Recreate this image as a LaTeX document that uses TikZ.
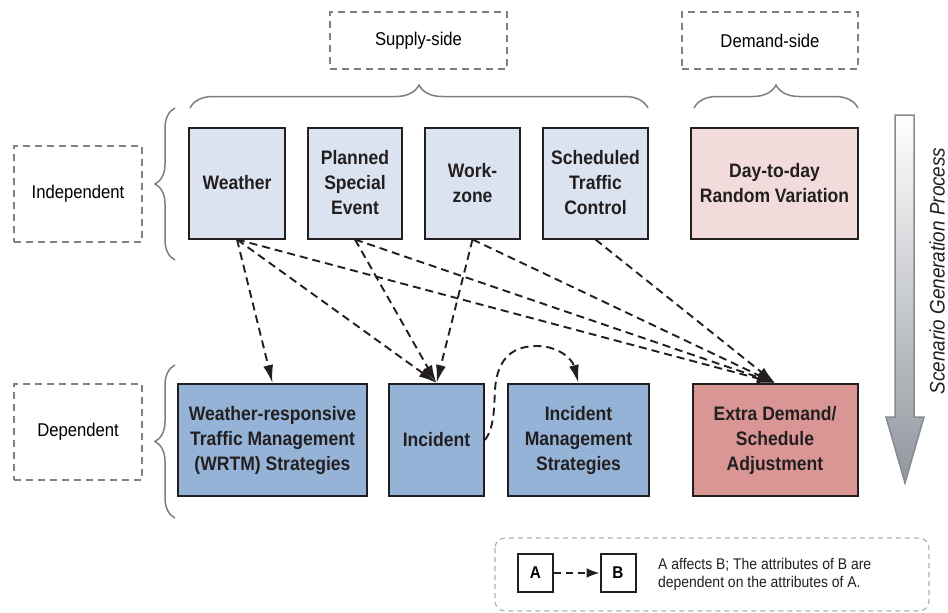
\documentclass[tikz,border=0pt]{standalone}
\usepackage{fontspec}
\setmainfont[FakeStretch=0.9]{Liberation Sans}
\usetikzlibrary{arrows.meta,decorations.pathreplacing,shapes.geometric}
\definecolor{lblgray}{HTML}{808080}
\definecolor{bracegray}{HTML}{7F7F7F}
\definecolor{boxline}{HTML}{231F20}
\definecolor{lblue}{HTML}{DCE3F0}
\definecolor{lpink}{HTML}{F2DCDB}
\definecolor{dblue}{HTML}{95B3D7}
\definecolor{dred}{HTML}{D99694}
\definecolor{arrowgray}{HTML}{858B93}
\definecolor{legendgray}{HTML}{B0B0B0}
\tikzset{
  lbl/.style={draw=lblgray, dash pattern=on 7pt off 5pt, line width=1.5pt,
    font=\fontsize{18.5}{22}\selectfont, align=center, inner sep=0pt},
  bx/.style={draw=boxline, line width=2pt, align=center, inner sep=0pt,
    font=\bfseries\fontsize{19.5}{25}\selectfont, text=boxline},
  ibox/.style={bx, fill=lblue},
  pbox/.style={bx, fill=lpink},
  dbox/.style={bx, fill=dblue},
  rbox/.style={bx, fill=dred},
  dep/.style={-{Latex[length=18pt,width=10pt]}, dash pattern=on 8pt off 5pt,
    line width=1.9pt, draw=boxline},
  brc/.style={draw=bracegray, line width=1.5pt, decorate},
  lgbox/.style={draw=boxline, line width=2pt, minimum width=35pt, minimum height=38pt,
    inner sep=0pt, font=\bfseries\fontsize{17}{20}\selectfont}
}
\begin{document}
\begin{tikzpicture}[x=1pt,y=-1pt]
\useasboundingbox (0,0) rectangle (948,613);
% category labels
\node[lbl, minimum width=177pt, minimum height=57pt] (supply) at (418.5,40.5) {Supply-side};
\node[lbl, minimum width=176pt, minimum height=57pt] (demand) at (770,40.5) {Demand-side};
\node[lbl, minimum width=128pt, minimum height=96pt] (indep) at (78,194) {Independent};
\node[lbl, minimum width=128pt, minimum height=96pt] (depn) at (78,432) {Dependent};
% braces
\draw[brc, decoration={brace, amplitude=23pt}] (190,108) -- (648,108);
\draw[brc, decoration={brace, amplitude=23pt}] (694,108) -- (858,108);
\draw[brc, decoration={brace, amplitude=20pt}] (175,260) -- (175,108);
\draw[brc, decoration={brace, amplitude=20pt}] (175,518) -- (175,365);
% top row
\node[ibox, minimum width=96pt, minimum height=111pt] (weather) at (237,183) {Weather};
\node[ibox, minimum width=94pt, minimum height=111pt] (pse) at (355,183) {Planned\\Special\\Event};
\node[ibox, minimum width=95pt, minimum height=111pt] (wz) at (472.5,183) {Work-\\zone};
\node[ibox, minimum width=105pt, minimum height=111pt] (stc) at (595.5,183) {Scheduled\\Traffic\\Control};
\node[pbox, minimum width=167pt, minimum height=111pt] (dtd) at (774.5,183) {Day-to-day\\Random Variation};
% bottom row
\node[dbox, minimum width=189pt, minimum height=112pt] (wrtm) at (272.5,440) {Weather-responsive\\Traffic Management\\(WRTM) Strategies};
\node[dbox, minimum width=95pt, minimum height=112pt] (inc) at (436.5,440) {Incident};
\node[dbox, minimum width=141pt, minimum height=112pt] (img) at (578.5,440) {Incident\\Management\\Strategies};
\node[rbox, minimum width=165pt, minimum height=112pt] (ext) at (775,440) {Extra Demand/\\Schedule\\Adjustment};
% dependencies
\draw[dep] (weather.south) -- (wrtm.north);
\draw[dep] (weather.south) -- (inc.north);
\draw[dep] (weather.south) -- (ext.north);
\draw[dep] (pse.south) -- (inc.north);
\draw[dep] (pse.south) -- (ext.north);
\draw[dep] (wz.south) -- (inc.north);
\draw[dep] (wz.south) -- (ext.north);
\draw[dep] (stc.south) -- (ext.north);
\draw[dep] (inc.east) .. controls (494,428) and (494,410) .. (495,390)
  .. controls (497,356) and (515,346) .. (537,346)
  .. controls (557,346) and (572,358) .. (img.north);
% scenario generation arrow
\path[draw=arrowgray, line width=1.5pt, top color=white, bottom color=arrowgray!90]
  (895,115) -- (914,115) -- (914,417) -- (924,417) -- (905,483) -- (886,417) -- (895,417) -- cycle;
\node[rotate=90, font=\itshape\fontsize{21}{24}\selectfont, text=boxline] (scen) at (937,271) {Scenario Generation Process};
% legend
\draw[legendgray, line width=1.2pt, dash pattern=on 5pt off 4pt, rounded corners=10pt] (495,538) rectangle (929,611);
\node[lgbox] (la) at (535.5,573) {A};
\node[lgbox] (lb) at (618,573) {B};
\draw[-{Latex[length=13pt,width=10pt]}, dash pattern=on 7pt off 5pt, line width=2pt, draw=boxline] (la.east) -- (lb.west);
\node[anchor=west, align=left, inner sep=0pt, font=\fontsize{15.5}{18}\selectfont, text=boxline] (ltext) at (658,574) {A affects B; The attributes of B are\\dependent on the attributes of A.};
\end{tikzpicture}
\end{document}
